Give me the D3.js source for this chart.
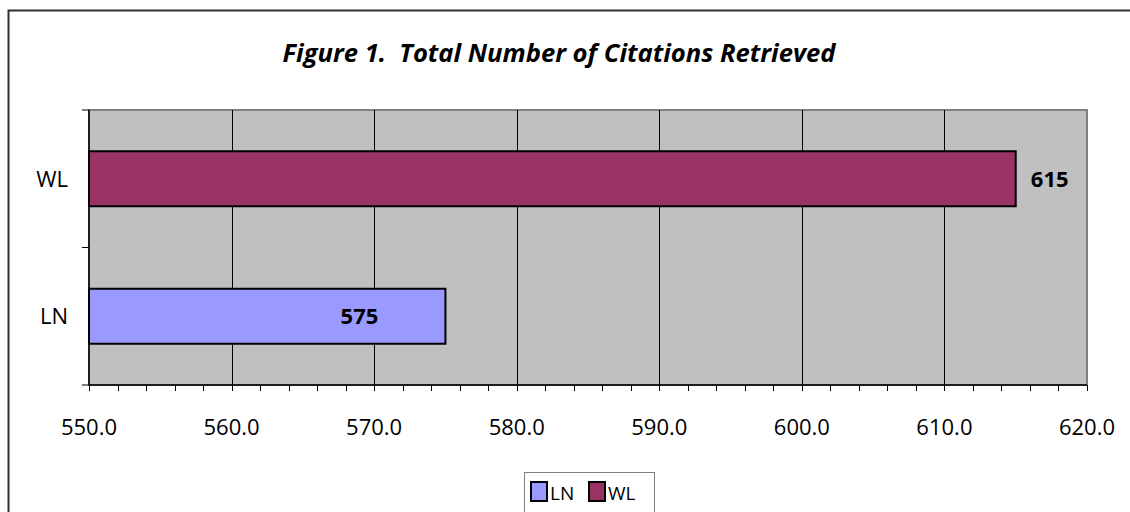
<!DOCTYPE html>
<html>
<head>
<meta charset="utf-8">
<script src="https://cdn.jsdelivr.net/npm/d3@7"></script>
<style>
  html, body { margin: 0; padding: 0; background: #fff; }
  svg { display: block; font-family: "Open Sans", "DejaVu Sans", sans-serif; }
</style>
</head>
<body>
<div id="chart"></div>
<script>
// --- DONNÉES ---
const categories = ["WL", "LN"];
const values = [615, 575];
const colors = ["#993366", "#9999FF"];
const legendOrder = ["LN", "WL"];
const xTicks = [550, 560, 570, 580, 590, 600, 610, 620];
const titleText = "Figure 1.\u00A0 Total Number of Citations Retrieved";

const width = 1130, height = 512;
const plot = { left: 89, right: 1087, top: 110, bottom: 385 };

const svg = d3.select("#chart").append("svg")
    .attr("width", width).attr("height", height);

// Cadre extérieur (haut + gauche visibles)
svg.append("path")
    .attr("d", `M8.5,${height + 5} L8.5,10.5 L${width + 5},10.5`)
    .attr("fill", "none").attr("stroke", "#303030").attr("stroke-width", 2);

// Titre
svg.append("text")
    .attr("x", 559).attr("y", 62)
    .attr("text-anchor", "middle")
    .attr("font-size", 25).attr("font-weight", "bold").attr("font-style", "italic")
    .attr("textLength", 553).attr("lengthAdjust", "spacingAndGlyphs")
    .text(titleText);

// --- ÉCHELLES ---
const x = d3.scaleLinear().domain([550, 620]).range([plot.left, plot.right]);
const y = d3.scaleBand().domain(categories).range([plot.top, plot.bottom]).paddingInner(0.6).paddingOuter(0.3);
const yOuter = d3.scaleBand().domain(categories).range([plot.top, plot.bottom]);
const color = d3.scaleOrdinal().domain(categories).range(colors);

// Fond gris
svg.append("rect")
    .attr("x", plot.left).attr("y", plot.top)
    .attr("width", plot.right - plot.left).attr("height", plot.bottom - plot.top)
    .attr("fill", "#C0C0C0").attr("stroke", "#808080").attr("stroke-width", 2);

// Grille verticale
svg.append("g").selectAll("line").data(xTicks.slice(1, -1)).join("line")
    .attr("x1", d => Math.round(x(d)) + 0.5).attr("x2", d => Math.round(x(d)) + 0.5)
    .attr("y1", plot.top).attr("y2", plot.bottom)
    .attr("stroke", "#000").attr("stroke-width", 1);

// Barres
svg.append("g").selectAll("rect").data(categories).join("rect")
    .attr("x", x(550))
    .attr("y", d => y(d))
    .attr("width", (d, i) => x(values[i]) - x(550))
    .attr("height", y.bandwidth())
    .attr("fill", d => color(d))
    .attr("stroke", "#000").attr("stroke-width", 2);

// Étiquettes de valeur
svg.append("g").selectAll("text").data(categories).join("text")
    .attr("x", (d, i) => i === 0 ? x(values[i]) + 34 : x(values[i]) - 86)
    .attr("y", d => y(d) + y.bandwidth() / 2 + 8)
    .attr("text-anchor", "middle")
    .attr("font-size", 22).attr("font-weight", "bold")
    .text((d, i) => values[i]);

// Axe X
const xAxis = svg.append("g").attr("transform", `translate(0,${plot.bottom})`);
xAxis.append("line")
    .attr("x1", plot.left).attr("x2", plot.right)
    .attr("stroke", "#000").attr("stroke-width", 1.5);
xAxis.selectAll(".minor").data(d3.range(550, 621, 2)).join("line")
    .attr("x1", d => Math.round(x(d)) + 0.5).attr("x2", d => Math.round(x(d)) + 0.5)
    .attr("y1", 0).attr("y2", 6)
    .attr("stroke", "#000").attr("stroke-width", 1);
xAxis.selectAll("text").data(xTicks).join("text")
    .attr("x", d => x(d)).attr("y", 50)
    .attr("text-anchor", "middle")
    .attr("font-size", 22)
    .text(d => d3.format(".1f")(d));

// Axe Y
const yAxis = svg.append("g");
yAxis.append("line")
    .attr("x1", plot.left).attr("x2", plot.left)
    .attr("y1", plot.top).attr("y2", plot.bottom)
    .attr("stroke", "#000").attr("stroke-width", 1.5);
yAxis.selectAll(".tick").data([plot.top, yOuter("LN"), plot.bottom]).join("line")
    .attr("x1", plot.left - 7).attr("x2", plot.left)
    .attr("y1", d => d).attr("y2", d => d)
    .attr("stroke", "#000").attr("stroke-width", 1);
yAxis.selectAll("text").data(categories).join("text")
    .attr("x", 68).attr("y", d => y(d) + y.bandwidth() / 2 + 8)
    .attr("text-anchor", "end")
    .attr("font-size", 22)
    .text(d => d);

// Légende
const legend = svg.append("g");
legend.append("rect")
    .attr("x", 524.5).attr("y", 472.5).attr("width", 130).attr("height", 50)
    .attr("fill", "#fff").attr("stroke", "#808080").attr("stroke-width", 1);
const lx = [531, 589];
legendOrder.forEach((c, i) => {
    legend.append("rect")
        .attr("x", lx[i]).attr("y", 482).attr("width", 16).attr("height", 19)
        .attr("fill", color(c)).attr("stroke", "#000").attr("stroke-width", 2);
    legend.append("text")
        .attr("x", lx[i] + 19).attr("y", 500)
        .attr("font-size", 19)
        .text(c);
});
</script>
</body>
</html>
